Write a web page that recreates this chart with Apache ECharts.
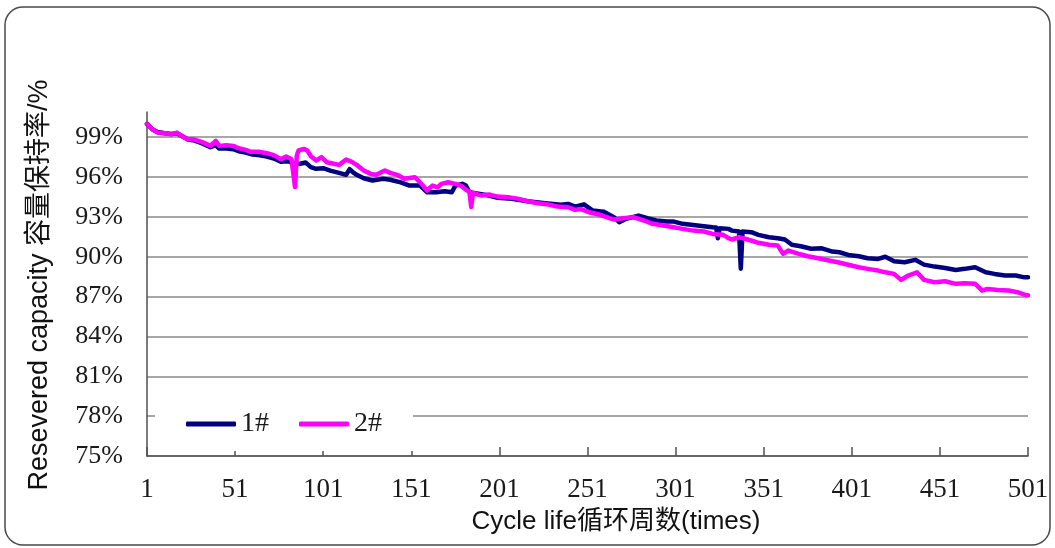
<!DOCTYPE html>
<html>
<head>
<meta charset="utf-8">
<script src="https://cdn.jsdelivr.net/npm/echarts@6/dist/echarts.min.js"></script>
<style>
  html, body { margin: 0; padding: 0; background: #fff; }
  #chart { width: 1055px; height: 548px; }
</style>
</head>
<body>
<div id="chart"></div>
<script>
// Cycle numbers and capacity retention (%) for cell 1#
const cycles1 = [1, 4, 7, 11, 15, 18, 20, 24, 28, 32, 37, 40, 42, 46, 50, 53, 57, 61, 65, 69, 73, 77, 81, 84, 86, 88, 91, 94, 97, 101, 105, 110, 114, 116, 118, 120, 124, 129, 135, 139, 145, 150, 156, 160, 165, 170, 174, 176, 180, 182, 184, 189, 195, 200, 208, 217, 227, 236, 240, 244, 249, 254, 260, 266, 269, 273, 280, 285, 290, 296, 300, 305, 311, 317, 322, 324, 325, 326, 331, 333, 337, 338, 339, 344, 348, 354, 359, 363, 367, 372, 378, 384, 390, 394, 399, 405, 410, 416, 420, 425, 431, 437, 442, 448, 454, 460, 465, 471, 477, 482, 488, 494, 499, 501];
const capacity1 = [100.0, 99.6, 99.4, 99.3, 99.25, 99.3, 99.15, 98.85, 98.75, 98.55, 98.25, 98.4, 98.15, 98.15, 98.1, 97.95, 97.85, 97.7, 97.65, 97.55, 97.4, 97.15, 97.2, 97.05, 97.0, 97.0, 97.1, 96.75, 96.62, 96.67, 96.49, 96.32, 96.17, 96.6, 96.35, 96.17, 95.91, 95.74, 95.87, 95.8, 95.6, 95.36, 95.36, 94.85, 94.85, 94.93, 94.86, 95.36, 95.49, 95.36, 94.86, 94.74, 94.61, 94.44, 94.36, 94.18, 94.03, 93.91, 93.98, 93.78, 93.95, 93.48, 93.4, 92.98, 92.6, 92.86, 93.1, 92.9, 92.73, 92.65, 92.65, 92.48, 92.4, 92.3, 92.22, 92.2, 91.4, 92.15, 92.1, 91.97, 91.9, 89.1, 91.9, 91.85, 91.65, 91.47, 91.4, 91.3, 90.9, 90.79, 90.6, 90.64, 90.39, 90.34, 90.14, 90.04, 89.89, 89.84, 90.0, 89.66, 89.59, 89.77, 89.41, 89.26, 89.16, 89.01, 89.09, 89.21, 88.83, 88.71, 88.59, 88.59, 88.45, 88.45];

// Cycle numbers and capacity retention (%) for cell 2#
const cycles2 = [1, 4, 7, 11, 15, 18, 20, 24, 27, 32, 37, 40, 42, 46, 50, 52, 57, 60, 65, 69, 73, 77, 80, 83, 84, 85, 86, 87, 90, 92, 94, 97, 100, 103, 107, 110, 114, 117, 120, 124, 128, 131, 136, 139, 143, 147, 153, 156, 160, 163, 166, 168, 172, 176, 179, 182, 184, 185, 186, 187, 191, 195, 200, 206, 212, 217, 223, 229, 234, 240, 244, 247, 252, 258, 266, 271, 277, 283, 288, 294, 300, 305, 311, 317, 322, 328, 331, 333, 337, 342, 348, 354, 359, 362, 365, 371, 376, 382, 388, 393, 399, 405, 410, 416, 420, 425, 429, 433, 438, 442, 448, 454, 460, 465, 471, 475, 478, 484, 490, 495, 499, 501];
const capacity2 = [100.0, 99.6, 99.35, 99.3, 99.23, 99.35, 99.15, 98.85, 98.85, 98.65, 98.35, 98.73, 98.35, 98.4, 98.35, 98.22, 98.05, 97.9, 97.9, 97.8, 97.65, 97.34, 97.55, 97.34, 97.3, 95.25, 97.6, 98.0, 98.12, 98.0, 97.57, 97.25, 97.5, 97.12, 97.0, 96.92, 97.32, 97.17, 96.92, 96.5, 96.24, 96.17, 96.5, 96.32, 96.17, 95.87, 95.99, 95.6, 94.99, 95.36, 95.23, 95.49, 95.61, 95.49, 95.36, 95.04, 94.9, 93.75, 94.8, 94.74, 94.61, 94.69, 94.53, 94.48, 94.36, 94.18, 94.03, 93.93, 93.78, 93.73, 93.53, 93.6, 93.35, 93.16, 92.8, 92.9, 92.98, 92.73, 92.48, 92.35, 92.22, 92.1, 91.97, 91.9, 91.72, 91.65, 91.4, 91.3, 91.47, 91.3, 91.05, 90.9, 90.84, 90.22, 90.47, 90.22, 90.04, 89.89, 89.72, 89.59, 89.4, 89.21, 89.09, 88.96, 88.83, 88.71, 88.26, 88.59, 88.83, 88.26, 88.08, 88.16, 87.96, 88.0, 87.96, 87.46, 87.58, 87.5, 87.46, 87.33, 87.15, 87.1];

// Axis tick labels
const xTicks = [1, 51, 101, 151, 201, 251, 301, 351, 401, 451, 501];
const yTicks = [75, 78, 81, 84, 87, 90, 93, 96, 99];
const seriesNames = ['1#', '2#'];

const sansFont = "'Liberation Sans', 'Noto Sans CJK SC', sans-serif";
const serifFont = "'Liberation Serif', 'DejaVu Serif', serif";

const pair = (xs, ys) => xs.map((x, i) => [x, ys[i]]);

const chart = echarts.init(document.getElementById('chart'), null, { renderer: 'canvas' });

chart.setOption({
  animation: false,
  backgroundColor: '#ffffff',
  color: ['#000080', '#ff00ff'],
  grid: { left: 147, right: 27, top: 112, bottom: 92, containLabel: false },
  xAxis: {
    type: 'value',
    min: 1,
    max: 501,
    axisLine: { show: true, lineStyle: { color: '#505050', width: 1.5 } },
    axisTick: { show: true, inside: true, length: 9, customValues: xTicks, lineStyle: { color: '#505050', width: 1.5 } },
    axisLabel: { customValues: xTicks, margin: 20, color: '#1a1a1a', fontFamily: serifFont, fontSize: 27 },
    splitLine: { show: false }
  },
  yAxis: {
    type: 'value',
    min: 75,
    max: 100.9,
    interval: 3,
    axisLine: { show: true, lineStyle: { color: '#505050', width: 1.5 } },
    axisTick: { show: false },
    axisLabel: {
      customValues: yTicks,
      margin: 24,
      color: '#1a1a1a',
      fontFamily: serifFont,
      fontSize: 26,
      formatter: v => v + '%'
    },
    splitLine: { show: true, showMaxLine: false, lineStyle: { color: '#8a8a8a', width: 1.5 } }
  },
  legend: {
    data: seriesNames,
    left: 186,
    top: 410,
    padding: 0,
    itemWidth: 50,
    itemHeight: 5,
    itemGap: 30,
    icon: 'roundRect',
    textStyle: { fontFamily: serifFont, fontSize: 28, color: '#1a1a1a' }
  },
  graphic: [
    {
      type: 'rect',
      z: 1,
      shape: { x: 155, y: 400, width: 258, height: 51 },
      style: { fill: '#ffffff' }
    },
    {
      type: 'rect',
      z: 10,
      shape: { x: 5, y: 7, width: 1045, height: 538, r: 18 },
      style: { fill: 'none', stroke: '#4a4a4a', lineWidth: 1.5 }
    },
    {
      type: 'text',
      z: 10,
      x: 40,
      y: 285,
      rotation: Math.PI / 2,
      style: {
        text: 'Resevered capacity 容量保持率/%',
        font: '27px ' + sansFont,
        fill: '#111',
        align: 'center',
        verticalAlign: 'middle'
      }
    },
    {
      type: 'text',
      z: 10,
      x: 616,
      y: 522,
      style: {
        text: 'Cycle life循环周数(times)',
        font: '26px ' + sansFont,
        fill: '#111',
        align: 'center',
        verticalAlign: 'middle'
      }
    }
  ],
  series: [
    {
      name: seriesNames[0],
      type: 'line',
      data: pair(cycles1, capacity1),
      showSymbol: false,
      symbol: 'none',
      z: 2,
      lineStyle: { width: 4.5, color: '#000080', cap: 'round', join: 'round' }
    },
    {
      name: seriesNames[1],
      type: 'line',
      data: pair(cycles2, capacity2),
      showSymbol: false,
      symbol: 'none',
      z: 3,
      lineStyle: { width: 4.5, color: '#ff00ff', cap: 'round', join: 'round' }
    }
  ]
});
</script>
</body>
</html>
